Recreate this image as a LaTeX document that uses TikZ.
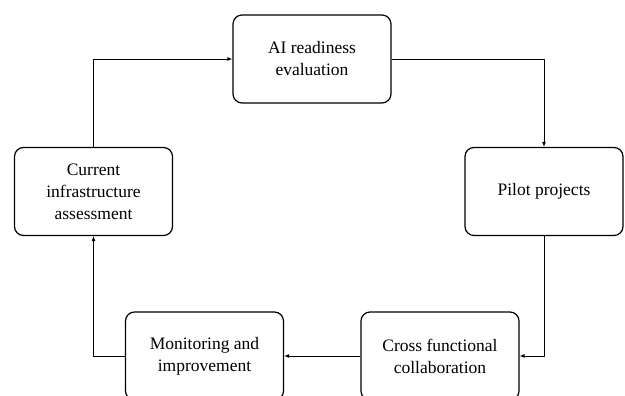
\documentclass[tikz,border=0pt]{standalone}
\usepackage{fontspec}
\setmainfont{Liberation Serif}
\usetikzlibrary{arrows.meta}
\begin{document}
\begin{tikzpicture}[x=1pt,y=1pt,
    stagebox/.style={draw,line width=1.2pt,rounded corners=9pt,minimum width=158pt,
      minimum height=88pt,align=center,inner sep=2pt,
      font=\fontsize{17.5}{22}\selectfont},
    flow/.style={line width=0.9pt,-{Latex[length=5pt,width=4pt]}}]
    \useasboundingbox (0,0) rectangle (625,396);

    \node[stagebox] (ai) at (312,337) {AI readiness\\evaluation};
    \node[stagebox] (pil) at (544,204.5) {Pilot projects};
    \node[stagebox] (cro) at (440,40) {Cross functional\\collaboration};
    \node[stagebox] (mon) at (204.5,40) {Monitoring and\\improvement};
    \node[stagebox] (cur) at (93.5,204.5) {Current\\infrastructure\\assessment};

    \draw[flow] (cur.north) |- (ai.west);
    \draw[flow] (ai.east) -| (pil.north);
    \draw[flow] (pil.south) |- (cro.east);
    \draw[flow] (cro.west) -- (mon.east);
    \draw[flow] (mon.west) -| (cur.south);
\end{tikzpicture}
\end{document}
